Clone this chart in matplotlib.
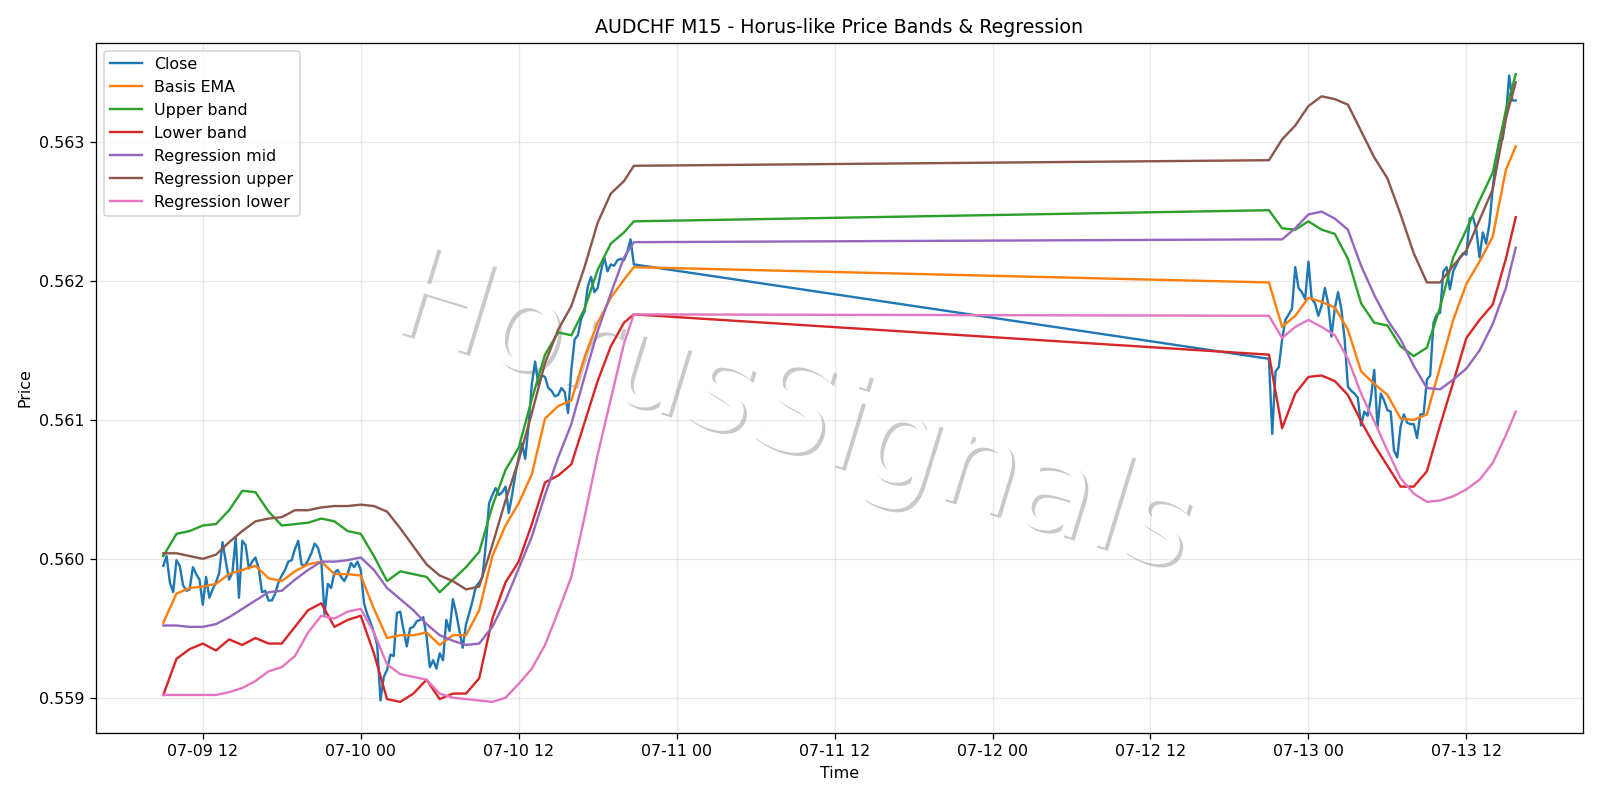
import pandas as pd
import matplotlib
matplotlib.use('Agg')
import matplotlib.pyplot as plt
import matplotlib.dates as mdates
import matplotlib.patheffects as pe

# 15 min bars, weekend gap between the two sessions
t_close = pd.date_range('2020-07-09 09:00', '2020-07-10 20:45', freq='15min').append(
    pd.date_range('2020-07-12 21:00', '2020-07-13 15:45', freq='15min'))

# hourly samples for the smooth lines (plus the last bar of each session)
t_band = pd.DatetimeIndex(
    list(pd.date_range('2020-07-09 09:00', '2020-07-10 20:00', freq='h'))
    + [pd.Timestamp('2020-07-10 20:45')]
    + list(pd.date_range('2020-07-12 21:00', '2020-07-13 15:00', freq='h'))
    + [pd.Timestamp('2020-07-13 15:45')])

close = [
    0.55995, 0.56002, 0.55983, 0.55976, 0.55999, 0.55995, 0.55981, 0.55977, 0.55978, 0.55994,
    0.55989, 0.55985, 0.55967, 0.55987, 0.55972, 0.55978, 0.55983, 0.55990, 0.56012, 0.55998,
    0.55985, 0.55990, 0.56015, 0.55972, 0.56013, 0.56010, 0.55993, 0.55998, 0.56001, 0.55993,
    0.55976, 0.55977, 0.55970, 0.55970, 0.55975, 0.55983, 0.55988, 0.55992, 0.55998, 0.55999,
    0.56007, 0.56013, 0.55996, 0.55995, 0.55999, 0.56004, 0.56011, 0.56008, 0.55999, 0.55960,
    0.55982, 0.55979, 0.55990, 0.55992,
    0.55987, 0.55984, 0.55989, 0.55997, 0.55994, 0.55998, 0.55992, 0.55968, 0.55960, 0.55954,
    0.55947, 0.55938, 0.55898, 0.55915, 0.55920, 0.55931, 0.55930, 0.55961, 0.55962, 0.55949,
    0.55937, 0.55950, 0.55951, 0.55955, 0.55956, 0.55958, 0.55944, 0.55922, 0.55927, 0.55921,
    0.55932, 0.55927, 0.55956, 0.55948, 0.55971, 0.55961, 0.55948, 0.55936, 0.55953, 0.55961,
    0.55970, 0.55980, 0.55983, 0.55987, 0.56010, 0.56040, 0.56046, 0.56051, 0.56046, 0.56048,
    0.56052,
    0.56033, 0.56046, 0.56061, 0.56073, 0.56083, 0.56072, 0.56096, 0.56126, 0.56142, 0.56125,
    0.56132, 0.56131, 0.56123, 0.56121, 0.56117, 0.56118, 0.56123, 0.56120, 0.56105, 0.56136,
    0.56158, 0.56161, 0.56173, 0.56178, 0.56196, 0.56203, 0.56192, 0.56195, 0.56207, 0.56217,
    0.56207, 0.56212, 0.56211, 0.56215, 0.56216, 0.56215, 0.56221, 0.56230, 0.56212,
    # sunday open
    0.56144, 0.56090, 0.56135, 0.56138, 0.56158, 0.56172, 0.56176, 0.56180, 0.56210, 0.56195,
    0.56192, 0.56187, 0.56214, 0.56187, 0.56184, 0.56175, 0.56182, 0.56195, 0.56184, 0.56160,
    0.56180, 0.56192, 0.56180, 0.56158, 0.56124, 0.56121, 0.56119, 0.56116, 0.56096, 0.56106,
    0.56103, 0.56116, 0.56136, 0.56095, 0.56119, 0.56114, 0.56107, 0.56106, 0.56078, 0.56073,
    0.56095, 0.56104, 0.56098, 0.56097, 0.56097, 0.56087, 0.56104, 0.56104, 0.56129, 0.56132,
    0.56170, 0.56176, 0.56177, 0.56207, 0.56210, 0.56194, 0.56207, 0.56212, 0.56217, 0.56220,
    0.56219, 0.56245, 0.56246, 0.56237, 0.56217, 0.56235, 0.56227, 0.56241, 0.56267, 0.56286,
    0.56301, 0.56302, 0.56318, 0.56348, 0.56330, 0.56330,
]

basis = [
    0.55954, 0.55975, 0.55979, 0.55980, 0.55982, 0.55989, 0.55992, 0.55995, 0.55986, 0.55984,
    0.55991, 0.55996, 0.55998, 0.55989, 0.55989, 0.55988, 0.55964, 0.55943, 0.55945, 0.55945,
    0.55947, 0.55938, 0.55945, 0.55945, 0.55963, 0.56002, 0.56024, 0.56040, 0.56061, 0.56101,
    0.56110, 0.56114, 0.56145, 0.56170, 0.56188, 0.56201, 0.56210,
    0.56199, 0.56167, 0.56175, 0.56188, 0.56185, 0.56181, 0.56165, 0.56135, 0.56126, 0.56118,
    0.56101, 0.56100, 0.56104, 0.56138, 0.56172, 0.56198, 0.56214, 0.56232, 0.56280, 0.56297,
]

upper = [
    0.56002, 0.56018, 0.56020, 0.56024, 0.56025, 0.56035, 0.56049, 0.56048, 0.56034, 0.56024,
    0.56025, 0.56026, 0.56029, 0.56027, 0.56020, 0.56018, 0.56002, 0.55984, 0.55991, 0.55989,
    0.55987, 0.55976, 0.55985, 0.55994, 0.56005, 0.56038, 0.56064, 0.56080, 0.56115, 0.56147,
    0.56163, 0.56161, 0.56180, 0.56208, 0.56227, 0.56235, 0.56243,
    0.56251, 0.56238, 0.56237, 0.56243, 0.56237, 0.56234, 0.56216, 0.56184, 0.56170, 0.56168,
    0.56153, 0.56146, 0.56152, 0.56181, 0.56217, 0.56237, 0.56258, 0.56278, 0.56323, 0.56349,
]

lower = [
    0.55902, 0.55928, 0.55935, 0.55939, 0.55934, 0.55942, 0.55938, 0.55943, 0.55939, 0.55939,
    0.55951, 0.55963, 0.55968, 0.55951, 0.55956, 0.55959, 0.55932, 0.55899, 0.55897, 0.55903,
    0.55913, 0.55899, 0.55903, 0.55903, 0.55914, 0.55957, 0.55983, 0.55998, 0.56025, 0.56055,
    0.56060, 0.56068, 0.56098, 0.56128, 0.56153, 0.56170, 0.56176,
    0.56147, 0.56094, 0.56119, 0.56131, 0.56132, 0.56128, 0.56118, 0.56099, 0.56082, 0.56067,
    0.56052, 0.56052, 0.56063, 0.56096, 0.56127, 0.56159, 0.56172, 0.56183, 0.56216, 0.56246,
]

reg_mid = [
    0.55952, 0.55952, 0.55951, 0.55951, 0.55953, 0.55958, 0.55964, 0.55970, 0.55976, 0.55977,
    0.55985, 0.55992, 0.55998, 0.55998, 0.55999, 0.56001, 0.55992, 0.55979, 0.55971, 0.55963,
    0.55953, 0.55945, 0.55941, 0.55938, 0.55939, 0.55951, 0.55970, 0.55993, 0.56016, 0.56046,
    0.56073, 0.56097, 0.56131, 0.56164, 0.56191, 0.56217, 0.56228,
    0.56230, 0.56230, 0.56238, 0.56248, 0.56250, 0.56245, 0.56237, 0.56211, 0.56190, 0.56172,
    0.56158, 0.56139, 0.56123, 0.56122, 0.56129, 0.56137, 0.56150, 0.56169, 0.56195, 0.56224,
]

reg_upper = [
    0.56004, 0.56004, 0.56002, 0.56000, 0.56003, 0.56012, 0.56020, 0.56027, 0.56029, 0.56030,
    0.56035, 0.56035, 0.56037, 0.56038, 0.56038, 0.56039, 0.56038, 0.56034, 0.56022, 0.56009,
    0.55996, 0.55988, 0.55984, 0.55978, 0.55980, 0.56010, 0.56042, 0.56071, 0.56105, 0.56141,
    0.56165, 0.56182, 0.56210, 0.56242, 0.56263, 0.56272, 0.56283,
    0.56287, 0.56302, 0.56312, 0.56326, 0.56333, 0.56331, 0.56327, 0.56308, 0.56289, 0.56274,
    0.56248, 0.56220, 0.56199, 0.56199, 0.56211, 0.56222, 0.56244, 0.56266, 0.56317, 0.56343,
]

reg_lower = [
    0.55902, 0.55902, 0.55902, 0.55902, 0.55902, 0.55904, 0.55907, 0.55912, 0.55919, 0.55922,
    0.55930, 0.55947, 0.55959, 0.55957, 0.55962, 0.55964, 0.55947, 0.55924, 0.55917, 0.55915,
    0.55913, 0.55903, 0.55900, 0.55899, 0.55898, 0.55897, 0.55900, 0.55910, 0.55921, 0.55938,
    0.55962, 0.55987, 0.56030, 0.56075, 0.56115, 0.56155, 0.56176,
    0.56175, 0.56159, 0.56167, 0.56172, 0.56167, 0.56161, 0.56144, 0.56119, 0.56099, 0.56078,
    0.56058, 0.56047, 0.56041, 0.56042, 0.56045, 0.56050, 0.56057, 0.56069, 0.56089, 0.56106,
]

fig, ax = plt.subplots(figsize=(14, 7), dpi=1600 / 14)
ax.plot(t_close, close, label='Close')
ax.plot(t_band, basis, label='Basis EMA')
ax.plot(t_band, upper, label='Upper band')
ax.plot(t_band, lower, label='Lower band')
ax.plot(t_band, reg_mid, label='Regression mid')
ax.plot(t_band, reg_upper, label='Regression upper')
ax.plot(t_band, reg_lower, label='Regression lower')

# watermark
ax.text(0.496, 0.48, 'HorusSignals', transform=fig.transFigure, fontsize=80,
        color='white', rotation=-17, ha='center', va='center', zorder=1,
        path_effects=[pe.withSimplePatchShadow(offset=(2, -2), alpha=0.3)])

ax.set_title('AUDCHF M15 - Horus-like Price Bands & Regression')
ax.set_xlabel('Time')
ax.set_ylabel('Price')
ax.xaxis.set_major_locator(mdates.HourLocator(byhour=[0, 12]))
ax.xaxis.set_major_formatter(mdates.DateFormatter('%m-%d %H'))
ax.grid(True, alpha=0.3)
ax.legend(loc='upper left')
plt.subplots_adjust(left=0.0598, right=0.9896, bottom=0.0834, top=0.9466)
plt.savefig('out.png', dpi=fig.dpi)
